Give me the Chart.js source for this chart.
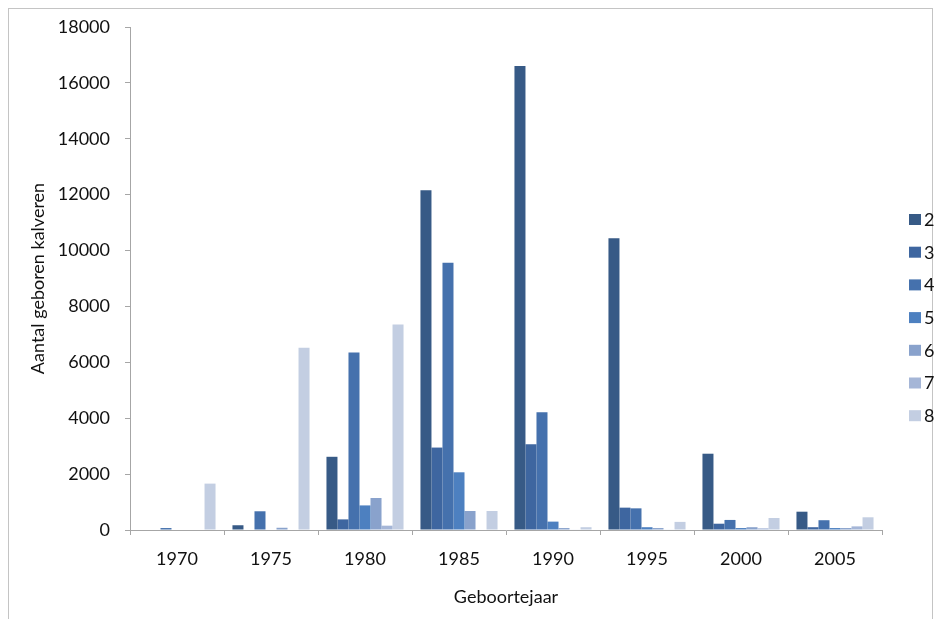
<!DOCTYPE html>
<html>
<head>
<meta charset="utf-8">
<script src="https://cdn.jsdelivr.net/npm/chart.js@4/dist/chart.umd.min.js"></script>
<style>
  body { margin: 0; background: #fff; overflow: hidden; }
  #frame { position: absolute; left: 8px; top: 8px; width: 923px; height: 640px; border: 1px solid #c4c4c4; }
  #chart { position: absolute; left: 0; top: 0; }
</style>
</head>
<body>
<div id="frame"></div>
<canvas id="chart" width="939" height="619"></canvas>
<script>
  // 年ごとのカテゴリ
  const years = ['1970', '1975', '1980', '1985', '1990', '1995', '2000', '2005'];

  // 系列ごとの値（凡例 2〜8）
  const serie2 = [0, 170, 2620, 12160, 16600, 10440, 2730, 655];
  const serie3 = [0, 0, 380, 2950, 3070, 800, 225, 100];
  const serie4 = [70, 670, 6350, 9560, 4210, 775, 360, 350];
  const serie5 = [0, 0, 880, 2065, 300, 100, 70, 70];
  const serie6 = [0, 80, 1145, 680, 70, 70, 100, 70];
  const serie7 = [0, 0, 155, 0, 20, 20, 60, 130];
  const serie8 = [1660, 6520, 7350, 680, 100, 290, 430, 455];

  const serieLabels = ['2', '3', '4', '5', '6', '7', '8'];
  const serieValues = [serie2, serie3, serie4, serie5, serie6, serie7, serie8];
  const serieColors = ['#375a86', '#3e66a0', '#4571ad', '#4d80c0', '#89a2cc', '#a5b6d7', '#c3cee2'];

  // y軸の目盛り
  const yMax = 18000;
  const yStep = 2000;

  const textColor = '#111';
  const axisColor = '#a6a6a6';
  const font = { family: 'Lato', size: 18 };

  // 右側の凡例（四角＋ラベル）
  const sideLegend = {
    id: 'sideLegend',
    afterDraw(chart) {
      const ctx = chart.ctx;
      const x = chart.chartArea.right + 27;
      ctx.save();
      ctx.font = '18px Lato';
      ctx.textBaseline = 'middle';
      chart.data.datasets.forEach((ds, i) => {
        const y = 219 + i * 32.7;
        ctx.fillStyle = ds.backgroundColor;
        ctx.fillRect(x, y - 5, 12, 11);
        ctx.fillStyle = textColor;
        ctx.fillText(ds.label, x + 15, y + 1);
      });
      ctx.restore();
    },
  };

  const barData = {
    labels: years,
    datasets: serieLabels.map((label, i) => ({
      label: label,
      data: serieValues[i],
      backgroundColor: serieColors[i],
      borderWidth: 0,
      barPercentage: 1.0,
      categoryPercentage: 0.82,
    })),
  };

  const ctx = document.getElementById('chart').getContext('2d');
  new Chart(ctx, {
    type: 'bar',
    data: barData,
    options: {
      responsive: false,
      animation: false,
      devicePixelRatio: 1,
      layout: { padding: { left: 0, top: 27, right: 57, bottom: 0 } },
      plugins: {
        legend: { display: false },
        tooltip: { enabled: false },
      },
      scales: {
        x: {
          offset: true,
          grid: { offset: true, drawOnChartArea: false, tickLength: 5, color: axisColor },
          border: { color: axisColor },
          ticks: { color: textColor, font: font, padding: 13, maxRotation: 0 },
          title: { display: true, text: 'Geboortejaar', color: textColor, font: font, padding: { bottom: 11 } },
          afterFit(scale) { scale.height = 89; },
        },
        y: {
          min: 0,
          max: yMax,
          grid: { drawOnChartArea: false, tickLength: 5, color: axisColor },
          border: { color: axisColor },
          ticks: {
            stepSize: yStep,
            color: textColor,
            font: font,
            padding: 15,
            callback: (value) => String(value),
          },
          title: { display: true, text: 'Aantal geboren kalveren', color: textColor, font: font, padding: { top: 27 } },
          afterFit(scale) { scale.width = 130; },
        },
      },
    },
    plugins: [sideLegend],
  });
</script>
</body>
</html>
